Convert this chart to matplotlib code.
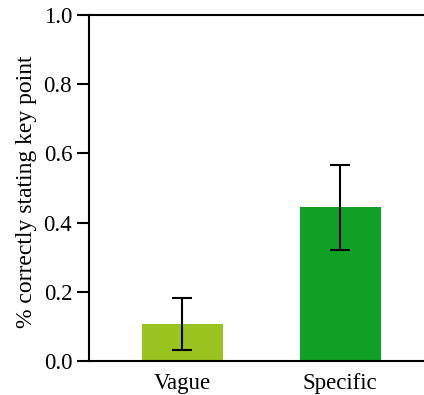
import matplotlib
matplotlib.use("Agg")
import matplotlib.pyplot as plt

categories = ["Vague", "Specific"]
values = [0.107, 0.445]
err_low = [0.032, 0.322]
err_high = [0.183, 0.566]
colors = ["#99c31f", "#10a025"]
yticks = [0.0, 0.2, 0.4, 0.6, 0.8, 1.0]

plt.rcParams['font.family'] = ['Liberation Serif', 'DejaVu Serif']

fig = plt.figure(figsize=(4.24, 3.95), dpi=100)
ax = fig.add_axes([89/424, 1 - 361/395, 1 - 89/424 + 0.01, 346/395])

x = list(range(len(categories)))
yerr = [[v - lo for v, lo in zip(values, err_low)], [hi - v for v, hi in zip(values, err_high)]]
ax.bar(x, values, width=0.513, color=colors)
ax.errorbar(x, values, yerr=yerr, fmt='none', ecolor='black', elinewidth=1.5, capsize=7, capthick=1.5)

ax.set_xlim(-0.589, 1.557)
ax.set_ylim(0, 1.0)
ax.set_yticks(yticks)
ax.set_yticklabels([f"{t:.1f}" for t in yticks], fontsize=16.5)
ax.set_xticks(x)
ax.set_xticklabels(categories, fontsize=16.5)
ax.tick_params(axis='x', length=0, pad=8.5)
ax.tick_params(axis='y', length=8.6, width=1.5, direction='out', pad=3.5)
ax.set_ylabel("% correctly stating key point", fontsize=17, labelpad=5, y=0.49)

ax.spines['right'].set_visible(False)
for s in ['left', 'top', 'bottom']:
    ax.spines[s].set_linewidth(1.5)

fig.savefig("out.png", dpi=100)
